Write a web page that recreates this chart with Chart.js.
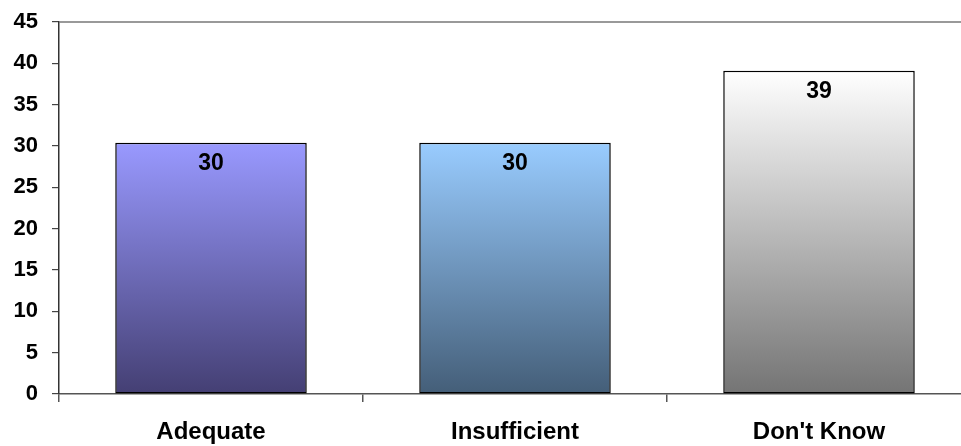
<!DOCTYPE html>
<html>
<head>
<meta charset="utf-8">
<script src="https://cdn.jsdelivr.net/npm/chart.js@4/dist/chart.umd.min.js"></script>
<style>
  html, body { margin: 0; padding: 0; background: #fff; overflow: hidden; }
  #wrap { width: 961px; height: 446px; overflow: hidden; }
  #wrap canvas { display: block; }
</style>
</head>
<body>
<div id="wrap"><canvas id="canvas" width="978" height="446"></canvas></div>
<script>
// chart values
var categories = ['Adequate', 'Insufficient', "Don't Know"];
var values = [30.4, 30.4, 39.1];
var valueLabels = ['30', '30', '39'];
var topColours = ['#9999ff', '#99ccff', '#ffffff'];
var bottomColours = ['#443f73', '#445e78', '#747474'];

var FONT = "'Liberation Sans', Arial, sans-serif";

// bar gradients, from the top of each bar down to zero
function barGradient(ctx) {
  var chart = ctx.chart;
  var area = chart.chartArea;
  var i = ctx.dataIndex;
  if (!area || i === undefined) { return topColours[i || 0]; }
  var yTop = chart.scales.y.getPixelForValue(values[i]);
  var g = chart.ctx.createLinearGradient(0, yTop, 0, area.bottom);
  g.addColorStop(0, topColours[i]);
  g.addColorStop(1, bottomColours[i]);
  return g;
}

// value labels inside the bars + top frame line
var extrasPlugin = {
  id: 'extras',
  afterDatasetsDraw: function (chart) {
    var c = chart.ctx;
    var area = chart.chartArea;
    c.save();
    c.strokeStyle = '#777777';
    c.lineWidth = 1.5;
    c.beginPath();
    c.moveTo(area.left, area.top);
    c.lineTo(area.right, area.top);
    c.stroke();

    c.fillStyle = '#000';
    c.font = 'bold 23px ' + FONT;
    c.textAlign = 'center';
    c.textBaseline = 'middle';
    chart.getDatasetMeta(0).data.forEach(function (bar, i) {
      c.fillText(valueLabels[i], bar.x, bar.y + 21);
    });
    c.restore();
  }
};

var ctx = document.getElementById('canvas').getContext('2d');
window.myBar = new Chart(ctx, {
  type: 'bar',
  data: {
    labels: categories,
    datasets: [{
      data: values,
      backgroundColor: barGradient,
      borderColor: '#000',
      borderWidth: 1.5,
      borderSkipped: false,
      categoryPercentage: 1,
      barPercentage: 0.63
    }]
  },
  options: {
    responsive: false,
    animation: false,
    layout: { padding: { top: 22, right: 7, left: 0, bottom: 0 } },
    plugins: { legend: { display: false }, tooltip: { enabled: false } },
    scales: {
      x: {
        grid: { offset: true, drawOnChartArea: false, drawTicks: true, tickLength: 8, color: '#555', lineWidth: 1.5 },
        border: { display: true, color: '#555', width: 1.5 },
        ticks: { color: '#000', padding: 16, font: { family: FONT, size: 24, weight: 'bold' } },
        afterFit: function (scale) { scale.height = 52; scale.paddingLeft = 0; scale.paddingRight = 0; }
      },
      y: {
        min: 0,
        max: 45,
        ticks: { stepSize: 5, color: '#000', padding: 14, font: { family: FONT, size: 22, weight: 'bold' } },
        grid: { drawOnChartArea: false, drawTicks: true, tickLength: 7, color: '#444', lineWidth: 1.2 },
        border: { display: true, color: '#333', width: 1.5 },
        afterFit: function (scale) { scale.width = 59; scale.paddingTop = 0; scale.paddingBottom = 0; }
      }
    }
  },
  plugins: [extrasPlugin]
});
</script>
</body>
</html>
